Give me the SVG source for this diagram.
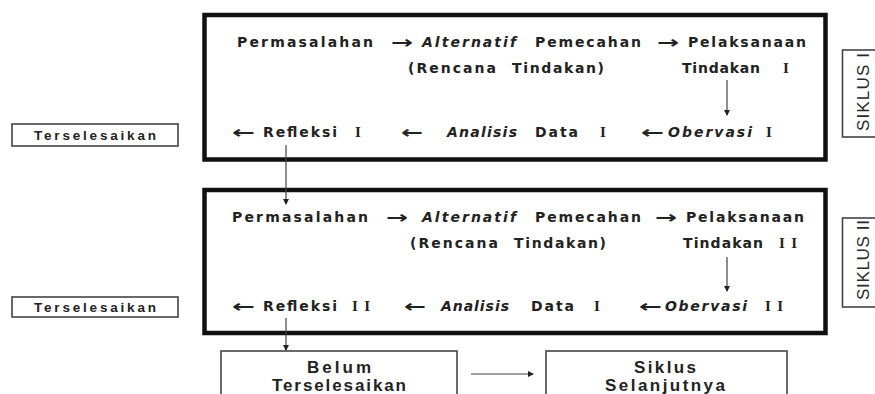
<svg xmlns="http://www.w3.org/2000/svg" width="875" height="394" viewBox="0 0 875 394">
<defs>
<style>
.t{font-family:"DejaVu Sans","Liberation Sans",sans-serif;font-size:14px;font-weight:bold;fill:#222;}
.it{font-style:italic;}
.ar{font-family:"DejaVu Sans",sans-serif;font-size:17px;font-weight:bold;fill:#222;}
.rn{font-family:"Liberation Serif",serif;font-size:15px;font-weight:bold;fill:#222;}
.big{fill:none;stroke:#111;stroke-width:4.5;}
.sm{fill:#fff;stroke:#444;stroke-width:1.6;}
.lb{font-family:"Liberation Sans",Arial,sans-serif;font-weight:bold;fill:#222;text-anchor:middle;}
.sk{font-family:"Liberation Sans",Arial,sans-serif;font-size:17px;fill:#2a2a2a;}
.cn{fill:none;stroke:#444;stroke-width:1.2;}
</style>
<marker id="ah" viewBox="0 0 6 6" refX="5" refY="3" markerWidth="5" markerHeight="5" orient="auto">
<path d="M0,0 L6,3 L0,6 z" fill="#222"/>
</marker>
</defs>
<rect width="875" height="394" fill="#fff"/>

<g id="siklus1">
<rect class="big" x="204.5" y="15" width="621" height="144.5"/>
<text class="t" x="237" y="47" textLength="136" lengthAdjust="spacing">Permasalahan</text>
<text class="ar" x="391" y="48" textLength="22" lengthAdjust="spacingAndGlyphs">→</text>
<text class="t it" x="422" y="47" textLength="94" lengthAdjust="spacing">Alternatif</text>
<text class="t" x="535" y="47" textLength="106" lengthAdjust="spacing">Pemecahan</text>
<text class="ar" x="657" y="48" textLength="22" lengthAdjust="spacingAndGlyphs">→</text>
<text class="t" x="688" y="47" textLength="118" lengthAdjust="spacing">Pelaksanaan</text>
<text class="t" x="408" y="73" textLength="88" lengthAdjust="spacing">(Rencana</text>
<text class="t" x="512" y="73" textLength="92" lengthAdjust="spacing">Tindakan)</text>
<text class="t" x="682" y="73" textLength="78" lengthAdjust="spacing">Tindakan</text>
<text class="rn" x="783" y="73">I</text>
<text class="ar" x="232" y="138" textLength="23" lengthAdjust="spacingAndGlyphs">←</text>
<text class="t" x="263" y="137" textLength="74" lengthAdjust="spacing">Refleksi</text>
<text class="rn" x="355" y="137">I</text>
<text class="ar" x="401" y="138" textLength="22" lengthAdjust="spacingAndGlyphs">←</text>
<text class="t it" x="447" y="137" textLength="70" lengthAdjust="spacing">Analisis</text>
<text class="t" x="535" y="137" textLength="43" lengthAdjust="spacing">Data</text>
<text class="rn" x="600" y="137">I</text>
<text class="ar" x="641" y="138" textLength="23" lengthAdjust="spacingAndGlyphs">←</text>
<text class="t it" x="668" y="137" textLength="84" lengthAdjust="spacing">Obervasi</text>
<text class="rn" x="766" y="137">I</text>
</g>

<g id="siklus2">
<rect class="big" x="204.5" y="190" width="621" height="143"/>
<text class="t" x="232" y="222" textLength="136" lengthAdjust="spacing">Permasalahan</text>
<text class="ar" x="386" y="223" textLength="22" lengthAdjust="spacingAndGlyphs">→</text>
<text class="t it" x="422" y="222" textLength="94" lengthAdjust="spacing">Alternatif</text>
<text class="t" x="535" y="222" textLength="106" lengthAdjust="spacing">Pemecahan</text>
<text class="ar" x="655" y="223" textLength="22" lengthAdjust="spacingAndGlyphs">→</text>
<text class="t" x="686" y="222" textLength="118" lengthAdjust="spacing">Pelaksanaan</text>
<text class="t" x="410" y="248" textLength="88" lengthAdjust="spacing">(Rencana</text>
<text class="t" x="514" y="248" textLength="92" lengthAdjust="spacing">Tindakan)</text>
<text class="t" x="683" y="248" textLength="80" lengthAdjust="spacing">Tindakan</text>
<text class="rn" x="779" y="248" textLength="18" lengthAdjust="spacing">II</text>
<text class="ar" x="232" y="312" textLength="23" lengthAdjust="spacingAndGlyphs">←</text>
<text class="t" x="263" y="311" textLength="74" lengthAdjust="spacing">Refleksi</text>
<text class="rn" x="352" y="311" textLength="18" lengthAdjust="spacing">II</text>
<text class="ar" x="404" y="312" textLength="22" lengthAdjust="spacingAndGlyphs">←</text>
<text class="t it" x="441" y="311" textLength="68" lengthAdjust="spacing">Analisis</text>
<text class="t" x="531" y="311" textLength="43" lengthAdjust="spacing">Data</text>
<text class="rn" x="594" y="311">I</text>
<text class="ar" x="639" y="312" textLength="23" lengthAdjust="spacingAndGlyphs">←</text>
<text class="t it" x="665" y="311" textLength="82" lengthAdjust="spacing">Obervasi</text>
<text class="rn" x="765" y="311" textLength="18" lengthAdjust="spacing">II</text>
</g>

<g id="label-siklus1">
<rect class="sm" x="842.5" y="50" width="40" height="87"/>
<text class="sk" transform="translate(869,131) rotate(-90)" textLength="78" lengthAdjust="spacing">SIKLUS I</text>
</g>
<g id="label-siklus2">
<rect class="sm" x="842.5" y="218" width="40" height="89"/>
<text class="sk" transform="translate(869,300) rotate(-90)" textLength="80" lengthAdjust="spacing">SIKLUS II</text>
</g>

<g id="terselesaikan1">
<rect class="sm" x="12" y="124" width="166" height="22"/>
<text class="lb" x="95" y="140" font-size="13.5" textLength="122" lengthAdjust="spacing">Terselesaikan</text>
</g>
<g id="terselesaikan2">
<rect class="sm" x="12" y="297" width="166" height="20"/>
<text class="lb" x="95" y="312" font-size="13.5" textLength="122" lengthAdjust="spacing">Terselesaikan</text>
</g>

<g id="belum">
<rect class="sm" x="221" y="351" width="236" height="60"/>
<text class="lb" x="339" y="373" font-size="17" textLength="64" lengthAdjust="spacing">Belum</text>
<text class="lb" x="339" y="391" font-size="17" textLength="134" lengthAdjust="spacing">Terselesaikan</text>
</g>
<g id="siklus-selanjutnya">
<rect class="sm" x="546" y="351" width="241" height="60"/>
<text class="lb" x="665" y="373" font-size="17" textLength="62" lengthAdjust="spacing">Siklus</text>
<text class="lb" x="665" y="391" font-size="17" textLength="120" lengthAdjust="spacing">Selanjutnya</text>
</g>

<g id="connectors">
<line class="cn" x1="727" y1="80" x2="727" y2="115" marker-end="url(#ah)"/>
<line class="cn" x1="727" y1="257" x2="727" y2="291" marker-end="url(#ah)"/>
<line class="cn" x1="286" y1="145" x2="286" y2="204" marker-end="url(#ah)"/>
<line class="cn" x1="286" y1="318" x2="286" y2="350" marker-end="url(#ah)"/>
<line class="cn" x1="471" y1="374" x2="533" y2="374" marker-end="url(#ah)"/>
</g>
</svg>
